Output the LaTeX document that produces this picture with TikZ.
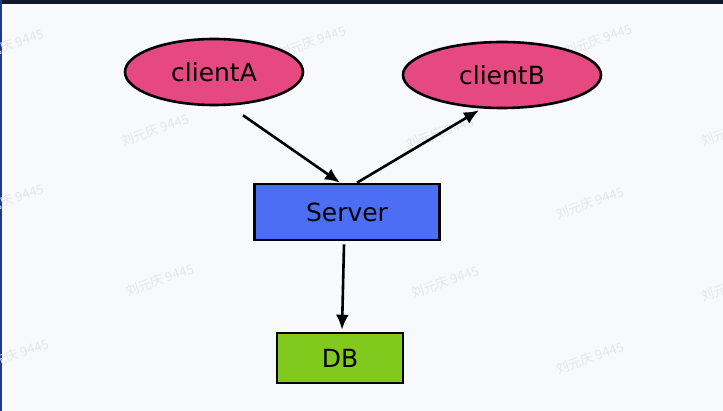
\documentclass[tikz,border=0pt]{standalone}
\usepackage{fontspec}
\setmainfont{DejaVu Sans}
\newfontfamily\cjk{Noto Sans CJK SC}
\usetikzlibrary{shapes.geometric,arrows.meta}
\definecolor{bgc}{HTML}{F8F9FB}
\definecolor{topband}{HTML}{0F1A30}
\definecolor{leftband}{HTML}{1B3A8C}
\definecolor{pinkc}{HTML}{E64980}
\definecolor{bluec}{HTML}{4C6EF5}
\definecolor{greenc}{HTML}{82C91E}
\definecolor{wmc}{HTML}{E4E6EA}
\tikzset{
  wm/.style={font=\cjk\fontsize{13}{15}\selectfont, text=wmc, rotate=20, inner sep=0pt},
  client/.style={ellipse, draw=black, line width=2.6pt, fill=pinkc, inner sep=0pt,
    font=\fontsize{25}{29}\selectfont},
  boxnode/.style={rectangle, draw=black, line width=2.6pt, inner sep=0pt,
    font=\fontsize{25}{29}\selectfont},
  arr/.style={line width=2.6pt, -{Latex[length=15pt,width=13pt]}}
}
\begin{document}
\begin{tikzpicture}[x=1pt,y=-1pt]
\clip (0,0) rectangle (723,411);
\fill[bgc] (0,0) rectangle (723,411);
\fill[topband] (0,0) rectangle (723,4);
\fill[leftband] (0,0) rectangle (2,411);
% watermarks
\node[wm] (wm1) at (10,45) {刘元庆 9445};
\node[wm] (wm2) at (312,42) {刘元庆 9445};
\node[wm] (wm3) at (598,40) {刘元庆 9445};
\node[wm] (wm4) at (155,130) {刘元庆 9445};
\node[wm] (wm5) at (440,133) {刘元庆 9445};
\node[wm] (wm6) at (735,130) {刘元庆 9445};
\node[wm] (wm7) at (10,200) {刘元庆 9445};
\node[wm] (wm9) at (590,203) {刘元庆 9445};
\node[wm] (wm10) at (160,280) {刘元庆 9445};
\node[wm] (wm11) at (445,282) {刘元庆 9445};
\node[wm] (wm12) at (735,285) {刘元庆 9445};
\node[wm] (wm13) at (15,355) {刘元庆 9445};
\node[wm] (wm15) at (590,358) {刘元庆 9445};
% nodes
\node[client, minimum width=178pt, minimum height=66pt] (clientA) at (214,72) {clientA};
\node[client, minimum width=198pt, minimum height=66pt] (clientB) at (502,75) {clientB};
\node[boxnode, fill=bluec, minimum width=185pt, minimum height=56pt] (Server) at (347,212) {Server};
\node[boxnode, fill=greenc, minimum width=126pt, minimum height=50pt] (DB) at (340,358) {DB};
% connectors
\draw[arr] ([xshift=29pt,yshift=-9pt]clientA.south) -- ([xshift=-7pt]Server.north);
\draw[arr] ([xshift=10pt]Server.north) -- ([xshift=-23pt,yshift=-1pt]clientB.south);
\draw[arr] ([xshift=-3pt,yshift=-3pt]Server.south) -- ([xshift=2pt,yshift=2pt]DB.north);
\end{tikzpicture}
\end{document}
